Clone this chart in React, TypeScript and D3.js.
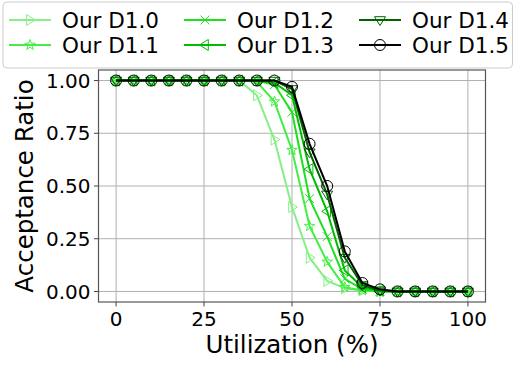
import React from "react";
import * as d3 from "d3";

const utilization = [0, 5, 10, 15, 20, 25, 30, 35, 40, 45, 50, 55, 60, 65, 70, 75, 80, 85, 90, 95, 100];
const d10 = [1, 1, 1, 1, 1, 1, 1, 1, 0.93, 0.72, 0.4, 0.16, 0.05, 0.015, 0.005, 0, 0, 0, 0, 0, 0];
const d11 = [1, 1, 1, 1, 1, 1, 1, 1, 0.995, 0.9, 0.67, 0.31, 0.14, 0.02, 0.005, 0, 0, 0, 0, 0, 0];
const d12 = [1, 1, 1, 1, 1, 1, 1, 1, 1, 0.98, 0.85, 0.44, 0.26, 0.06, 0.01, 0, 0, 0, 0, 0, 0];
const d13 = [1, 1, 1, 1, 1, 1, 1, 1, 1, 0.99, 0.93, 0.58, 0.38, 0.1, 0.02, 0.003, 0, 0, 0, 0, 0];
const d14 = [1, 1, 1, 1, 1, 1, 1, 1, 1, 1, 0.96, 0.66, 0.46, 0.16, 0.03, 0.005, 0, 0, 0, 0, 0];
const d15 = [1, 1, 1, 1, 1, 1, 1, 1, 1, 1, 0.97, 0.7, 0.5, 0.19, 0.04, 0.01, 0, 0, 0, 0, 0];
const seriesNames = ["Our D1.0", "Our D1.1", "Our D1.2", "Our D1.3", "Our D1.4", "Our D1.5"];
const seriesValues = [d10, d11, d12, d13, d14, d15];
const seriesColors = ["#86f086", "#44ee44", "#1ee01e", "#00bb00", "#006400", "#000000"];
const seriesMarkers = ["tri-right", "star", "x", "tri-left", "tri-down", "circle"];
const xTicks = [0, 25, 50, 75, 100];
const yTicks = [0, 0.25, 0.5, 0.75, 1.0];

const W = 514, H = 367;
const left = 98.5, right = 485.5, top = 70, bottom = 302;

function markerPath(type: string, r: number): string {
  switch (type) {
    case "tri-right":
      return `M${r},0L${-r * 0.6},${-r}L${-r * 0.6},${r}Z`;
    case "tri-left":
      return `M${-r},0L${r * 0.6},${-r}L${r * 0.6},${r}Z`;
    case "tri-down":
      return `M0,${r}L${-r},${-r * 0.6}L${r},${-r * 0.6}Z`;
    case "x": {
      const a = r * 0.8;
      return `M${-a},${-a}L${a},${a}M${-a},${a}L${a},${-a}`;
    }
    case "star": {
      const pts: string[] = [];
      for (let i = 0; i < 10; i++) {
        const rr = i % 2 === 0 ? r : r * 0.4;
        const ang = -Math.PI / 2 + (i * Math.PI) / 5;
        pts.push(`${rr * Math.cos(ang)},${rr * Math.sin(ang)}`);
      }
      return "M" + pts.join("L") + "Z";
    }
    default:
      return `M${r},0A${r},${r} 0 1,1 ${-r},0A${r},${r} 0 1,1 ${r},0Z`;
  }
}

export default function App() {
  const x = d3.scaleLinear().domain([-5, 105]).range([left, right]);
  const y = d3.scaleLinear().domain([-0.05, 1.05]).range([bottom, top]);
  const line = d3
    .line<number>()
    .x((_, i) => x(utilization[i]))
    .y((d) => y(d));
  const font = "DejaVu Sans, sans-serif";
  const legendCols = [9, 184, 359];
  const legendRows = [20, 45];

  return (
    <svg width={W} height={H} style={{ position: "absolute", left: 0, top: 0 }} fontFamily={font}>
      <rect x={0} y={0} width={W} height={H} fill="#fff" />
      {/* grid */}
      {xTicks.map((t) => (
        <line key={"gx" + t} x1={x(t)} x2={x(t)} y1={top} y2={bottom} stroke="#b0b0b0" strokeWidth={1} />
      ))}
      {yTicks.map((t) => (
        <line key={"gy" + t} x1={left} x2={right} y1={y(t)} y2={y(t)} stroke="#b0b0b0" strokeWidth={1} />
      ))}
      {/* series */}
      {seriesValues.map((vals, si) => (
        <g key={"s" + si}>
          <path d={line(vals) || ""} fill="none" stroke={seriesColors[si]} strokeWidth={2} />
          {vals.map((v, i) => (
            <path
              key={i}
              transform={`translate(${x(utilization[i])},${y(v)})`}
              d={markerPath(seriesMarkers[si], 5.5)}
              fill="none"
              stroke={seriesColors[si]}
              strokeWidth={1}
            />
          ))}
        </g>
      ))}
      {/* spines */}
      <rect x={left} y={top} width={right - left} height={bottom - top} fill="none" stroke="#555" strokeWidth={1.2} />
      {/* ticks */}
      {xTicks.map((t) => (
        <g key={"tx" + t}>
          <line x1={x(t)} x2={x(t)} y1={bottom} y2={bottom + 4.5} stroke="#444" />
          <text x={x(t)} y={bottom + 24} fontSize={20} textAnchor="middle" fill="#000">
            {d3.format("d")(t)}
          </text>
        </g>
      ))}
      {yTicks.map((t) => (
        <g key={"ty" + t}>
          <line x1={left - 4.5} x2={left} y1={y(t)} y2={y(t)} stroke="#444" />
          <text x={left - 8} y={y(t)} dy="0.36em" fontSize={20} textAnchor="end" fill="#000">
            {d3.format(".2f")(t)}
          </text>
        </g>
      ))}
      <text x={(left + right) / 2} y={353} fontSize={24.5} textAnchor="middle" fill="#000">
        Utilization (%)
      </text>
      <text transform={`translate(33,${(top + bottom) / 2}) rotate(-90)`} fontSize={24.5} textAnchor="middle" fill="#000">
        Acceptance Ratio
      </text>
      {/* legend */}
      <rect x={3} y={2} width={509.5} height={66} rx={4} fill="#fff" fillOpacity={0.85} stroke="#cccccc" strokeWidth={1} />
      {seriesNames.map((name, si) => {
        const cx = legendCols[Math.floor(si / 2)];
        const cy = legendRows[si % 2];
        return (
          <g key={"lg" + si}>
            <line x1={cx} x2={cx + 42} y1={cy} y2={cy} stroke={seriesColors[si]} strokeWidth={2} />
            <path transform={`translate(${cx + 21},${cy})`} d={markerPath(seriesMarkers[si], 5.5)} fill="none" stroke={seriesColors[si]} strokeWidth={1} />
            <text x={cx + 53} y={cy} dy="0.36em" fontSize={21.5} fill="#000">
              {name}
            </text>
          </g>
        );
      })}
    </svg>
  );
}
